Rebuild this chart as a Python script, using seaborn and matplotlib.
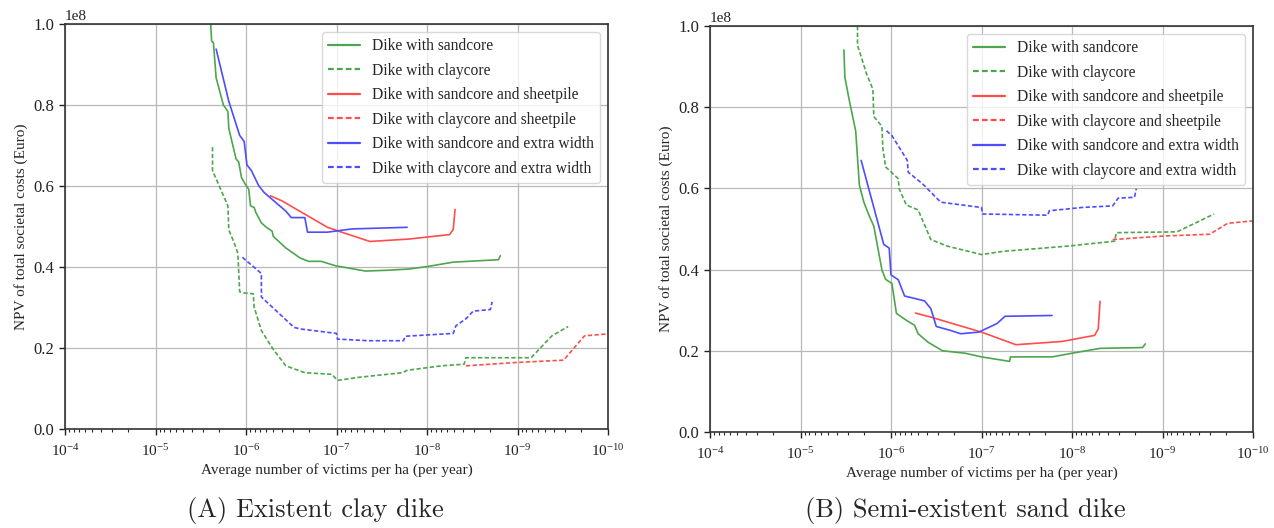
import matplotlib
matplotlib.use("Agg")
import matplotlib.pyplot as plt
import numpy as np
import pandas as pd
import seaborn as sns

LABELS = [
    "Dike with sandcore",
    "Dike with claycore",
    "Dike with sandcore and sheetpile",
    "Dike with claycore and sheetpile",
    "Dike with sandcore and extra width",
    "Dike with claycore and extra width",
]
COLORS = ["#4da64d", "#4da64d", "#ff4d4d", "#ff4d4d", "#4d4dff", "#4d4dff"]

# x values are stored as exponent e of 10^-e, y values in units of 1e8 Euro
# --- panel A: existent clay dike ---
A_SAND_E = [5.61, 5.62, 5.64, 5.67, 5.75, 5.80, 5.81, 5.89, 5.92, 5.95, 5.99, 6.03, 6.05, 6.09, 6.11,
            6.17, 6.22, 6.29, 6.30, 6.44, 6.60, 6.69, 6.83, 6.99, 7.32, 7.57, 7.80, 8.00, 8.29, 8.79, 8.81]
A_SAND_V = [1.00, 0.958, 0.954, 0.867, 0.800, 0.784, 0.742, 0.667, 0.659, 0.621, 0.605, 0.592, 0.551, 0.547, 0.534,
            0.509, 0.499, 0.488, 0.476, 0.447, 0.422, 0.414, 0.414, 0.403, 0.390, 0.392, 0.395, 0.401, 0.412, 0.418, 0.428]
A_CLAY_E = [5.63, 5.63, 5.72, 5.80, 5.81, 5.87, 5.91, 5.93, 5.98, 6.08, 6.09, 6.17, 6.30, 6.44, 6.65,
            6.95, 7.01, 7.26, 7.73, 7.78, 8.16, 8.41, 8.43, 9.15, 9.38, 9.56]
A_CLAY_V = [0.696, 0.638, 0.592, 0.551, 0.492, 0.459, 0.434, 0.339, 0.336, 0.334, 0.301, 0.243, 0.197, 0.156, 0.139,
            0.135, 0.120, 0.128, 0.139, 0.145, 0.156, 0.160, 0.176, 0.176, 0.230, 0.253]
A_SAND_SP_E = [6.27, 6.40, 6.90, 7.03, 7.37, 7.80, 8.25, 8.29, 8.31]
A_SAND_SP_V = [0.576, 0.563, 0.498, 0.488, 0.463, 0.469, 0.480, 0.493, 0.542]
A_CLAY_SP_E = [8.43, 8.97, 9.51, 9.74, 10.0]
A_CLAY_SP_V = [0.156, 0.164, 0.170, 0.230, 0.235]
A_SAND_EW_E = [5.67, 5.81, 5.93, 5.98, 6.01, 6.06, 6.14, 6.20, 6.44, 6.50, 6.65, 6.68, 6.90, 7.17, 7.78]
A_SAND_EW_V = [0.938, 0.809, 0.725, 0.710, 0.652, 0.638, 0.601, 0.584, 0.538, 0.522, 0.522, 0.486, 0.486, 0.494, 0.498]
A_CLAY_EW_E = [5.96, 6.17, 6.17, 6.53, 6.60, 7.00, 7.01, 7.35, 7.74, 7.76, 8.29, 8.32, 8.43, 8.51, 8.70, 8.72]
A_CLAY_EW_V = [0.424, 0.384, 0.326, 0.251, 0.247, 0.236, 0.222, 0.218, 0.218, 0.229, 0.236, 0.255, 0.272, 0.291, 0.295, 0.314]

# --- panel B: semi-existent sand dike ---
B_SAND_E = [5.48, 5.49, 5.54, 5.61, 5.65, 5.70, 5.76, 5.81, 5.90, 5.94, 6.01, 6.06, 6.17, 6.26, 6.30,
            6.41, 6.57, 6.82, 7.00, 7.31, 7.32, 7.78, 8.00, 8.31, 8.78, 8.81]
B_SAND_V = [0.941, 0.874, 0.816, 0.741, 0.609, 0.566, 0.532, 0.507, 0.399, 0.376, 0.366, 0.292, 0.275, 0.263, 0.242,
            0.221, 0.200, 0.194, 0.185, 0.174, 0.185, 0.185, 0.194, 0.206, 0.208, 0.217]
B_CLAY_E = [5.63, 5.63, 5.73, 5.80, 5.81, 5.90, 5.91, 5.94, 6.08, 6.09, 6.17, 6.30, 6.44, 6.62, 7.00,
            7.24, 7.96, 8.47, 8.49, 9.16, 9.57]
B_CLAY_V = [1.00, 0.953, 0.882, 0.844, 0.777, 0.753, 0.699, 0.653, 0.624, 0.599, 0.559, 0.547, 0.474, 0.458, 0.437,
            0.445, 0.458, 0.470, 0.491, 0.493, 0.537]
B_SAND_SP_E = [6.27, 6.44, 7.00, 7.38, 7.89, 8.25, 8.29, 8.31]
B_SAND_SP_V = [0.293, 0.283, 0.246, 0.215, 0.223, 0.238, 0.254, 0.322]
B_CLAY_SP_E = [8.45, 9.03, 9.52, 9.72, 10.0]
B_CLAY_SP_V = [0.474, 0.483, 0.487, 0.514, 0.520]
B_SAND_EW_E = [5.67, 5.92, 5.98, 6.00, 6.08, 6.15, 6.37, 6.44, 6.50, 6.66, 6.77, 6.97, 7.17, 7.26, 7.78]
B_SAND_EW_V = [0.669, 0.462, 0.453, 0.387, 0.375, 0.335, 0.323, 0.304, 0.260, 0.250, 0.242, 0.246, 0.267, 0.285, 0.287]
B_CLAY_EW_E = [5.95, 6.01, 6.18, 6.19, 6.35, 6.55, 6.79, 7.00, 7.01, 7.73, 7.75, 8.11, 8.45, 8.51, 8.69, 8.71]
B_CLAY_EW_V = [0.742, 0.730, 0.669, 0.640, 0.611, 0.566, 0.559, 0.553, 0.537, 0.534, 0.545, 0.553, 0.557, 0.576, 0.578, 0.599]

PANEL_A = [(A_SAND_E, A_SAND_V), (A_CLAY_E, A_CLAY_V), (A_SAND_SP_E, A_SAND_SP_V),
           (A_CLAY_SP_E, A_CLAY_SP_V), (A_SAND_EW_E, A_SAND_EW_V), (A_CLAY_EW_E, A_CLAY_EW_V)]
PANEL_B = [(B_SAND_E, B_SAND_V), (B_CLAY_E, B_CLAY_V), (B_SAND_SP_E, B_SAND_SP_V),
           (B_CLAY_SP_E, B_CLAY_SP_V), (B_SAND_EW_E, B_SAND_EW_V), (B_CLAY_EW_E, B_CLAY_EW_V)]

YTICK_SIZE = 12
XTICK_SIZE = 11
LABEL_SIZE = 11
LEGEND_SIZE = 11.2


def build_frame(panel) -> pd.DataFrame:
    parts = []
    for label, (e, v) in zip(LABELS, panel):
        parts.append(pd.DataFrame({
            "victims": 10.0 ** (-np.asarray(e, dtype=float)),
            "npv": np.asarray(v, dtype=float) * 1e8,
            "series": label,
        }))
    return pd.concat(parts, ignore_index=True)


sns.set_style("ticks")
plt.rcParams["font.family"] = ["Liberation Serif", "DejaVu Serif"]
plt.rcParams["mathtext.fontset"] = "stix"

fig = plt.figure(figsize=(12.74, 5.28), dpi=100)
ax_a = fig.add_axes([65 / 1274, 1 - 429 / 528, 543 / 1274, 405 / 528])
ax_b = fig.add_axes([710 / 1274, 1 - 432 / 528, 543 / 1274, 406 / 528])

palette = dict(zip(LABELS, COLORS))
dashes = {lab: ("" if i % 2 == 0 else (2.6, 1.4)) for i, lab in enumerate(LABELS)}

for ax, panel in [(ax_a, PANEL_A), (ax_b, PANEL_B)]:
    df = build_frame(panel)
    sns.lineplot(data=df, x="victims", y="npv", hue="series", style="series",
                 hue_order=LABELS, style_order=LABELS, palette=palette, dashes=dashes,
                 sort=False, estimator=None, linewidth=1.2, ax=ax)
    ax.set_xscale("log")
    ax.set_xlim(1e-4, 1e-10)
    ax.set_ylim(0, 1e8)
    ax.set_yticks(np.arange(0, 1.01, 0.2) * 1e8)
    ax.grid(True, which="major", color="#b8b8b8", linewidth=0.9)
    ax.set_xlabel("Average number of victims per ha (per year)", fontsize=LABEL_SIZE, labelpad=3)
    ax.set_ylabel("NPV of total societal costs (Euro)", fontsize=LABEL_SIZE)
    ax.tick_params(axis="y", which="major", labelsize=YTICK_SIZE, length=4, width=1, colors="#222222")
    ax.tick_params(axis="x", which="major", labelsize=XTICK_SIZE, length=4, width=1, colors="#222222",
                   pad=6)
    ax.tick_params(axis="x", which="minor", length=2.2, width=0.8)
    ax.yaxis.get_offset_text().set_fontsize(LABEL_SIZE)
    for sp in ax.spines.values():
        sp.set_color("#333333")
        sp.set_linewidth(1.2)
    leg = ax.legend(loc="upper right", fontsize=LEGEND_SIZE, frameon=True, handlelength=2.0,
                    labelspacing=0.55)
    leg.get_frame().set_edgecolor("#d0d0d0")
    for line in leg.get_lines():
        line.set_linewidth(1.6)

fig.text(315 / 1274, 1 - 510 / 528, "(A) Existent clay dike", family="cmr10", fontsize=19,
         ha="center", va="center")
fig.text(965 / 1274, 1 - 510 / 528, "(B) Semi-existent sand dike", family="cmr10", fontsize=19,
         ha="center", va="center")

fig.savefig("out.png", dpi=100)
